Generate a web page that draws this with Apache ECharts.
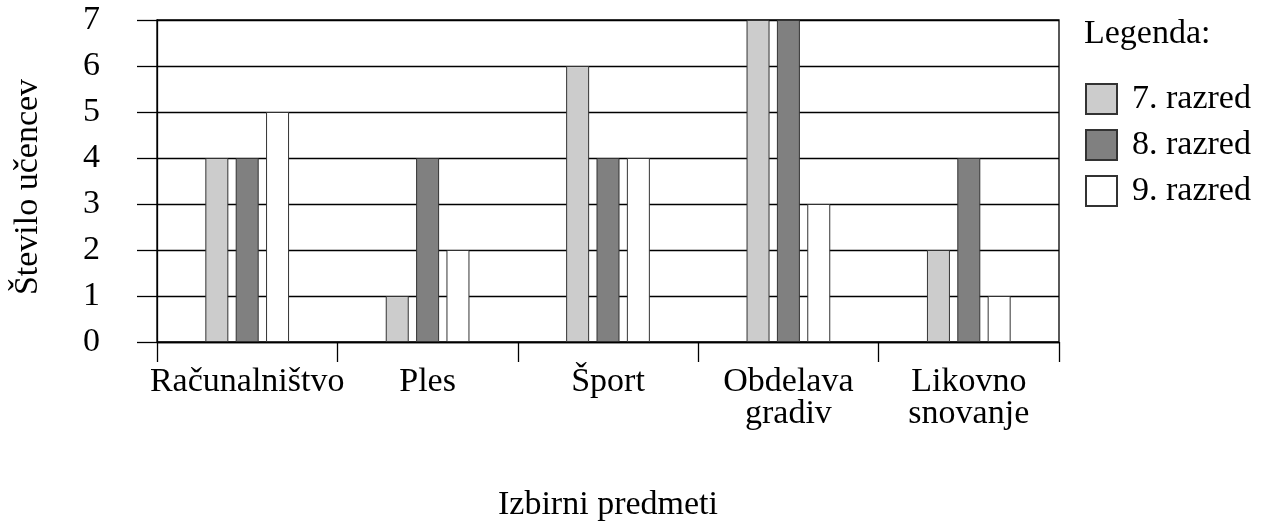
<!DOCTYPE html>
<html>
<head>
<meta charset="utf-8">
<script src="https://cdn.jsdelivr.net/npm/echarts@6/dist/echarts.min.js"></script>
<style>
html,body{margin:0;padding:0;background:#fff;}
#chart{width:1266px;height:522px;}
</style>
</head>
<body>
<div id="chart"></div>
<script>
const categories = ['Računalništvo', 'Ples', 'Šport', 'Obdelava\ngradiv', 'Likovno\nsnovanje'];
const seriesNames = ['7. razred', '8. razred', '9. razred'];
const razred7 = [4, 1, 6, 7, 2];
const razred8 = [4, 4, 4, 7, 4];
const razred9 = [5, 2, 4, 3, 1];
const yTicks = [0, 1, 2, 3, 4, 5, 6, 7];

const FONT = '"Liberation Serif", "Times New Roman", serif';
const colors = ['#cccccc', '#808080', '#ffffff'];
const values = [razred7, razred8, razred9];

const chart = echarts.init(document.getElementById('chart'), null, {renderer: 'canvas'});
chart.setOption({
  animation: false,
  backgroundColor: '#fff',
  textStyle: {fontFamily: FONT, color: '#000'},
  title: {
    text: 'Legenda:',
    left: 1079, top: 12,
    textStyle: {fontFamily: FONT, fontSize: 34, fontWeight: 'normal', color: '#000'}
  },
  legend: {
    orient: 'vertical',
    left: 1080, top: 77,
    itemWidth: 31, itemHeight: 30, itemGap: 12,
    icon: 'rect',
    textStyle: {fontFamily: FONT, fontSize: 34, color: '#000', lineHeight: 30, padding: [0, 0, 0, 10]},
    data: seriesNames
  },
  grid: {
    left: 157, right: 207, top: 20, bottom: 180,
    outerBoundsMode: 'none',
    containLabel: false,
    show: true, borderColor: '#000', borderWidth: 1.3, backgroundColor: 'transparent'
  },
  xAxis: {
    type: 'category',
    data: categories,
    name: 'Izbirni predmeti',
    nameLocation: 'middle',
    nameGap: 146,
    nameTextStyle: {fontFamily: FONT, fontSize: 34, color: '#000'},
    axisLine: {lineStyle: {color: '#000', width: 1.3}},
    axisTick: {show: true, length: 20, lineStyle: {color: '#000', width: 1.3}},
    axisLabel: {fontFamily: FONT, fontSize: 34, color: '#000', margin: 24, lineHeight: 32, interval: 0}
  },
  yAxis: {
    type: 'value',
    min: 0, max: 7, interval: 1,
    name: 'Število učencev',
    nameLocation: 'middle',
    nameGap: 112,
    nameTextStyle: {fontFamily: FONT, fontSize: 34, color: '#000', padding: [0, 12, 0, 0]},
    axisLine: {show: true, lineStyle: {color: '#000', width: 1.3}},
    axisTick: {show: true, length: 20, lineStyle: {color: '#000', width: 1.3}},
    axisLabel: {fontFamily: FONT, fontSize: 34, color: '#000', margin: 57,
      formatter: v => yTicks.includes(v) ? String(v) : ''},
    splitLine: {show: true, lineStyle: {color: '#000', width: 1.3}}
  },
  series: seriesNames.map((n, i) => ({
    name: n,
    type: 'bar',
    data: values[i],
    barWidth: 23,
    barGap: '32%',
    itemStyle: {color: colors[i], borderColor: '#333', borderWidth: 1}
  }))
});
</script>
</body>
</html>
